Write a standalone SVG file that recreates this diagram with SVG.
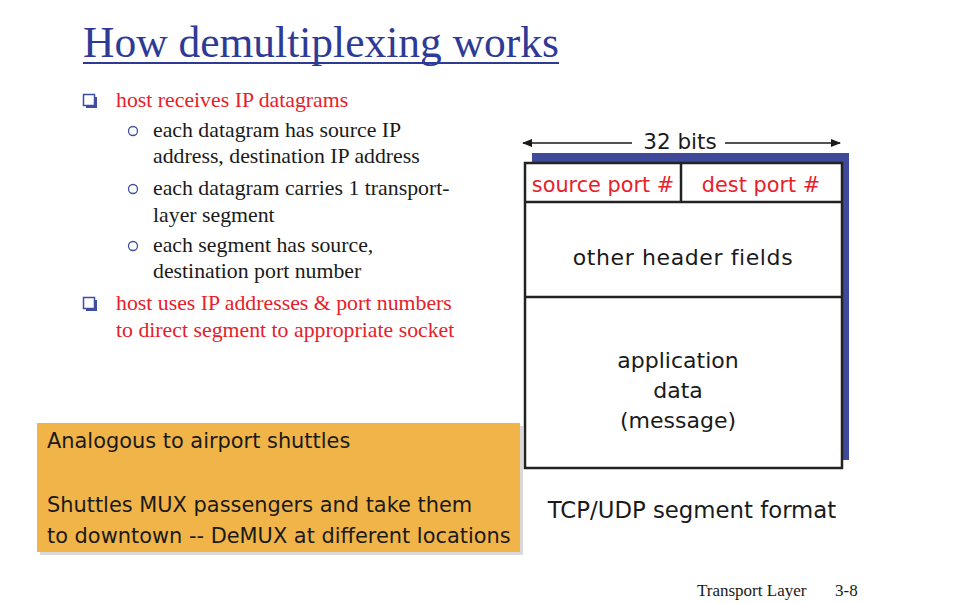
<svg xmlns="http://www.w3.org/2000/svg" width="965" height="603" viewBox="0 0 965 603">
<style>
.title{font-family:"Liberation Serif",serif;font-size:43.5px;fill:#2e3b96}
.red{font-family:"Liberation Serif",serif;font-size:21.8px;fill:#e8202a}
.blk{font-family:"Liberation Serif",serif;font-size:21.8px;fill:#1a1a1a}
.foot{font-family:"Liberation Serif",serif;font-size:17px;fill:#1a1a1a}
.cs{font-family:"DejaVu Sans",sans-serif;font-size:22px;fill:#1a1a1a}
.ob{font-family:"DejaVu Sans",sans-serif;font-size:20.9px;fill:#1a1a1a}
.csr{font-family:"DejaVu Sans",sans-serif;font-size:20.8px;fill:#e8202a}
.box{fill:#fff;stroke:#222;stroke-width:2.5}
.sq{fill:#fff;stroke:#3f4ea0;stroke-width:1.5}
.ci{fill:none;stroke:#3f4ea0;stroke-width:1.3}
</style>
<defs>
<marker id="ah" markerWidth="10" markerHeight="8" refX="9" refY="4" orient="auto" markerUnits="userSpaceOnUse">
<path d="M0,0 L10,4 L0,8 Z" fill="#1a1a1a"/>
</marker>
</defs>
<rect width="965" height="603" fill="#fff"/>
<g id="title">
<text class="title" x="83" y="57">How demultiplexing works</text>
<rect x="83" y="62" width="476" height="2" fill="#2e3b96"/>
</g>
<g id="bullets">
<rect x="86" y="97" width="11" height="11" fill="#3f4ea0"/>
<rect x="83.5" y="94.5" width="11" height="11" class="sq"/>
<text class="red" x="116" y="107">host receives IP datagrams</text>
<circle cx="133" cy="131" r="4.5" class="ci"/>
<text class="blk" x="153" y="137">each datagram has source IP</text>
<text class="blk" x="153" y="163">address, destination IP address</text>
<circle cx="133" cy="189" r="4.5" class="ci"/>
<text class="blk" x="153" y="195">each datagram carries 1 transport-</text>
<text class="blk" x="153" y="222">layer segment</text>
<circle cx="133" cy="246" r="4.5" class="ci"/>
<text class="blk" x="153" y="252">each segment has source,</text>
<text class="blk" x="153" y="278">destination port number</text>
<rect x="86" y="300" width="11" height="11" fill="#3f4ea0"/>
<rect x="83.5" y="297.5" width="11" height="11" class="sq"/>
<text class="red" x="116" y="310">host uses IP addresses &amp; port numbers</text>
<text class="red" x="116" y="337">to direct segment to appropriate socket</text>
</g>
<g id="connectors">
<line x1="632" y1="143" x2="523" y2="143" stroke="#1a1a1a" stroke-width="1.5" marker-end="url(#ah)"/>
<line x1="725" y1="143" x2="840" y2="143" stroke="#1a1a1a" stroke-width="1.5" marker-end="url(#ah)"/>
</g>
<g id="segment">
<text class="cs" x="680" y="149" text-anchor="middle" style="font-size:21.5px">32 bits</text>
<rect x="532" y="153" width="317" height="307" fill="#3f4b9a"/>
<rect x="525" y="163" width="317" height="305" class="box"/>
<line x1="525" y1="202" x2="842" y2="202" stroke="#222" stroke-width="2.5"/>
<line x1="681" y1="163" x2="681" y2="202" stroke="#222" stroke-width="2.5"/>
<line x1="525" y1="297" x2="842" y2="297" stroke="#222" stroke-width="2.5"/>
<text class="csr" x="603" y="192" text-anchor="middle">source port #</text>
<text class="csr" x="761" y="192" text-anchor="middle">dest port #</text>
<text class="cs" x="683" y="265" text-anchor="middle" style="letter-spacing:0.6px">other header fields</text>
<text class="cs" x="678" y="368" text-anchor="middle">application</text>
<text class="cs" x="678" y="398" text-anchor="middle">data</text>
<text class="cs" x="678" y="428" text-anchor="middle">(message)</text>
<text class="cs" x="692" y="518" text-anchor="middle" style="font-size:22.8px">TCP/UDP segment format</text>
</g>
<g id="analogy">
<rect x="40" y="426" width="483" height="129" fill="#000" opacity="0.15"/>
<rect x="37" y="423" width="483" height="129" fill="#f0b449"/>
<text class="ob" x="47" y="448">Analogous to airport shuttles</text>
<text class="ob" x="47" y="512">Shuttles MUX passengers and take them</text>
<text class="ob" x="47" y="543">to downtown -- DeMUX at different locations</text>
</g>
<g id="footer">
<text class="foot" x="697" y="596">Transport Layer</text>
<text class="foot" x="835" y="596">3-8</text>
</g>
</svg>
